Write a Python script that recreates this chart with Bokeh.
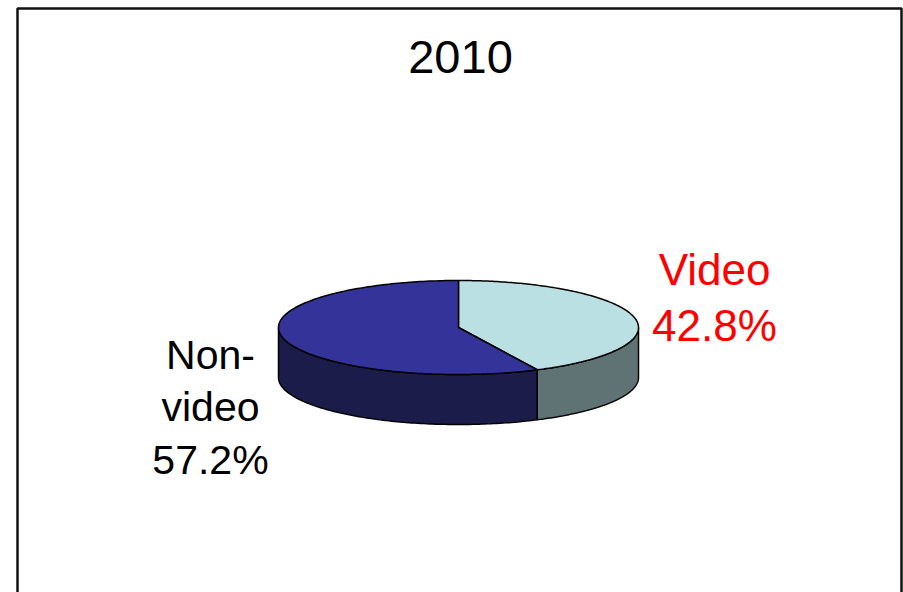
import numpy as np
from bokeh.plotting import figure
from bokeh.models import Range1d
from bokeh.core.properties import value
from bokeh.embed import file_html
from bokeh.resources import INLINE

# ---- data ----
title = "2010"
categories = ["Video", "Non-video"]
shares = [42.8, 57.2]
label_lines = [["Video", "42.8%"], ["Non-", "video", "57.2%"]]
top_colors = ["#bbe0e3", "#333399"]
side_colors = ["#5f7374", "#1c1c4a"]
label_colors = ["#ff0000", "#000000"]

# ---- layout ----
W, H = 903, 592
cx, cy, rx, ry, depth = 458.0, 327.0, 180.0, 47.0, 50.0

p = figure(width=W, height=H, output_backend="svg", toolbar_location=None,
           x_range=Range1d(0, W), y_range=Range1d(H, 0), min_border=0)
p.axis.visible = False
p.grid.visible = False
p.outline_line_color = None
p.background_fill_color = "white"
p.border_fill_color = "white"

# frame
p.quad(left=[17], right=[901], top=[8], bottom=[H + 20], fill_color=None,
       line_color="#111111", line_width=2.5)


def pt(theta_deg, dy=0.0):
    t = np.radians(theta_deg)
    return cx + rx * np.sin(t), cy - ry * np.cos(t) + dy


# angles clockwise from 12 o'clock
bounds = np.concatenate([[0], np.cumsum(shares) / sum(shares) * 360.0])

# side walls (front half: 90..270)
for i in range(len(shares)):
    a0, a1 = bounds[i], bounds[i + 1]
    s0, s1 = max(a0, 90.0), min(a1, 270.0)
    if s1 <= s0:
        continue
    th = np.linspace(s0, s1, 120)
    xt, yt = pt(th)
    xb, yb = pt(th[::-1], depth)
    p.patch(np.concatenate([xt, xb]), np.concatenate([yt, yb]),
            fill_color=side_colors[i], line_color="black", line_width=1.5)

# top faces
for i in range(len(shares)):
    a0, a1 = bounds[i], bounds[i + 1]
    th = np.linspace(a0, a1, 200)
    xt, yt = pt(th)
    p.patch(np.concatenate([[cx], xt]), np.concatenate([[cy], yt]),
            fill_color=top_colors[i], line_color="black", line_width=1.5)

# title
p.text(x=[460], y=[56], text=[title], text_font=value("Liberation Sans"),
       text_font_size="47px", text_align="center", text_baseline="alphabetic",
       text_color="black")

# labels
label_pos = [(714, 269, 56, "44px"), (210, 354, 52.5, "41px")]
for i, lines in enumerate(label_lines):
    x0, y0, lh, fs = label_pos[i]
    p.text(x=[x0] * len(lines), y=[y0 + k * lh for k in range(len(lines))],
           text=lines, text_font=value("Liberation Sans"), text_font_size=fs,
           text_align="center", text_baseline="alphabetic",
           text_color=label_colors[i])

open("out.html", "w").write(file_html(p, INLINE))
